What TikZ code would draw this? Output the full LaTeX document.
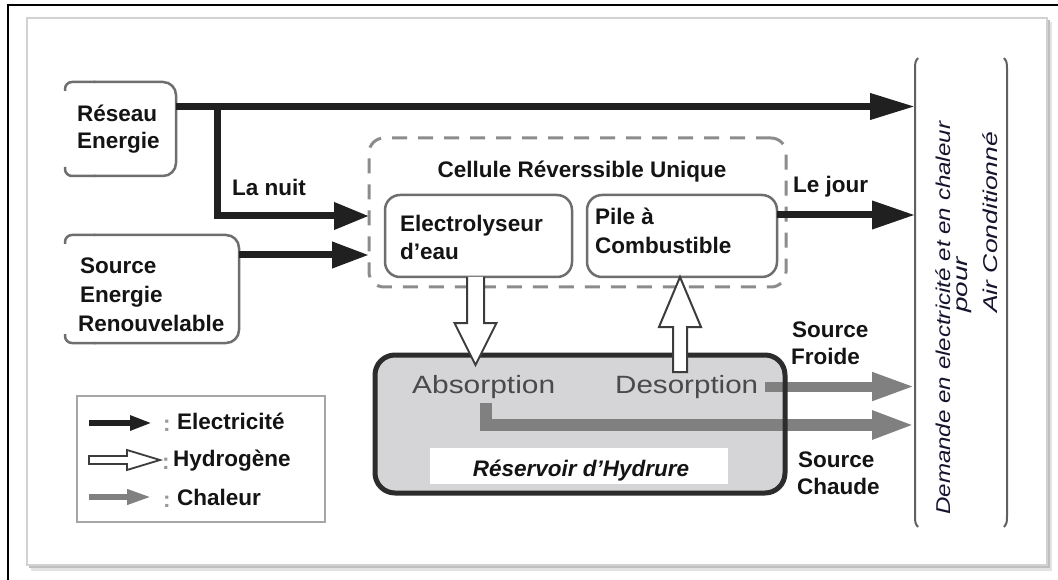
\documentclass[tikz,border=0pt]{standalone}
\usepackage{fontspec}
\setmainfont{Liberation Sans}
\usetikzlibrary{arrows.meta,calc}

\definecolor{ink}{HTML}{141414}
\definecolor{elec}{HTML}{202020}
\definecolor{heat}{HTML}{808080}
\definecolor{boxgray}{HTML}{6E6E6E}
\definecolor{dashgray}{HTML}{8C8C8C}
\definecolor{tankfill}{HTML}{D5D5D7}
\definecolor{tankline}{HTML}{2C2C2C}
\definecolor{hline}{HTML}{3C3C3C}
\definecolor{tanktext}{HTML}{4A4A4A}
\definecolor{demandink}{HTML}{15152E}

% stretch a text horizontally to a given width, keeping its height
\newcommand{\stretchw}[2]{\resizebox{#1}{\height}{#2}}

% box whose left side is left open, only its corners being drawn
\newcommand{\sideframe}[1]{%
  \draw[sideline, rounded corners=7pt] ($(#1.north west)+(0,9)$) -- (#1.north west) -- ($(#1.north west)+(30,0)$);
  \draw[sideline, rounded corners=13pt] ($(#1.north west)+(29,0)$) -- (#1.north east) -- (#1.south east) -- ($(#1.south west)+(29,0)$);
  \draw[sideline, rounded corners=7pt] ($(#1.south west)+(30,0)$) -- (#1.south west) -- ($(#1.south west)+(0,-9)$);}

\begin{document}
\begin{tikzpicture}[x=1pt,y=-1pt,
  place/.style={rectangle, inner sep=0pt, outer sep=0pt},
  lab/.style={font=\fontsize{22.5}{27}\selectfont\bfseries, text=ink, inner sep=0pt, anchor=base west},
  tanktxt/.style={font=\fontsize{25}{29}\selectfont, text=tanktext, inner sep=0pt, anchor=base west},
  demtxt/.style={font=\fontsize{20}{24}\selectfont\itshape, text=demandink, inner sep=0pt, rotate=90, anchor=base west},
  colon/.style={font=\fontsize{22.5}{27}\selectfont\bfseries, text=gray!80, inner sep=0pt, anchor=base west},
  sideline/.style={draw=boxgray, line width=2.5pt},
  cellbox/.style={place, draw=boxgray, line width=2.5pt, rounded corners=15pt, fill=white},
  wire/.style={draw=elec, line width=7pt, line join=miter},
  elecarrow/.style={wire, -{Triangle[length=43pt,width=25pt]}},
  heatarrow/.style={draw=heat, line width=10pt, line join=miter, -{Triangle[length=43pt,width=26pt]}},
  h2arrow/.style={draw=hline, fill=white, line width=2pt, line join=miter},
  bracket/.style={draw=gray!75!black, line width=2pt}]

\useasboundingbox (0,0) rectangle (1058,580);

% outer frame and the white panel with its shadow
\draw[black, line width=2.5pt] (8,590) -- (8,5) -- (1070,5);
\fill[gray!22] (31,22) rectangle (1052,571);
\fill[gray!50] (29,20) rectangle (1050,568);
\fill[white] (27,18) rectangle (1047,565);
\draw[gray!35, line width=1.5pt] (27,18) rectangle (1047,565);

% placeholders of the main blocks
\node[place, minimum width=111pt, minimum height=94pt] (reseau) at (120.5,129) {};
\node[place, minimum width=174pt, minimum height=108pt] (source) at (152,289) {};
\node[place, draw=dashgray, line width=3pt, dash pattern=on 15pt off 11pt, rounded corners=15pt,
      minimum width=417pt, minimum height=149pt] (cell) at (577.5,212.5) {};
\node[cellbox, minimum width=187pt, minimum height=82pt] (elyz) at (478.5,236) {};
\node[cellbox, minimum width=190pt, minimum height=82pt] (pile) at (682,236) {};
\node[place, minimum width=92pt, minimum height=469pt] (dem) at (961,292.5) {};

\sideframe{reseau}
\sideframe{source}

% electricity
\coordinate (split) at (217,106.5);
\draw[elecarrow, -{Triangle[length=45pt,width=25pt]}] ($(reseau.east)+(0,-22.5)$) -- ($(dem.west)+(0,-186)$);
\draw[elecarrow, -{Triangle[length=35pt,width=26pt]}] (split) |- ($(cell.west)+(0,3.5)$);
\draw[elecarrow, -{Triangle[length=37pt,width=25pt]}] ($(source.east)+(0,-34)$) -- ($(cell.west)+(0,42.5)$);
\draw[elecarrow, -{Triangle[length=43pt,width=27pt]}] ($(pile.east)+(0,-21)$) -- ($(dem.west)+(0,-77.5)$);

% hydride tank
\node[place, fill=tankfill, rounded corners=20pt, minimum width=410pt, minimum height=138pt] (tank) at (580,424) {};
\node[tanktxt] (absorb) at (412,393) {\stretchw{143pt}{Absorption}};
\node[tanktxt] (desorb) at (615,393) {\stretchw{143pt}{Desorption}};

% heat
\coordinate (hotstart) at (486,403);
\draw[heatarrow] ($(desorb.east)+(7,0)$) -- ($(desorb.east -| dem.west)$);
\draw[heatarrow, line width=12pt] (hotstart) |- ($(dem.west)+(0,132.5)$);

\draw[draw=tankline, line width=5pt, rounded corners=20pt] (tank.north west) rectangle (tank.south east);
\node[place, fill=white, minimum width=298pt, minimum height=36pt] (tanklabel) at (579,466) {};
\node[lab, anchor=base, font=\fontsize{22.5}{27}\selectfont\bfseries\itshape] (tankname) at (581,476) {Réservoir d'Hydrure};

% hydrogen
\draw[h2arrow] ($(elyz.south)+(-11.5,0)$) -- ++(0,46) -- ++(-12.5,0) -- ++(21,42) -- ++(21,-42) -- ++(-12.5,0) -- ++(0,-46);
\draw[h2arrow] ($(pile.south)+(-2,0)$) -- ++(21,50) -- ++(-14,0) -- ++(0,45) -- ++(-14,0) -- ++(0,-45) -- ++(-14,0) -- cycle;

% block texts
\node[lab] (r1) at (77,122) {Réseau};
\node[lab] (r2) at (77,149) {Energie};
\node[lab] (s1) at (80,274) {Source};
\node[lab] (s2) at (80,302.5) {Energie};
\node[lab] (s3) at (78,331) {Renouvelable};
\node[lab] (nuit) at (232,196) {La nuit};
\node[lab, anchor=base] (celltitle) at (582,178) {Cellule Réverssible Unique};
\node[lab] (e1) at (400,232) {Electrolyseur};
\node[lab] (e2) at (400,260) {d'eau};
\node[lab] (p1) at (595,225) {Pile à};
\node[lab] (p2) at (595,254) {Combustible};
\node[lab] (jour) at (793,193) {Le jour};
\node[lab] (f1) at (792,337) {Source};
\node[lab] (f2) at (791,364) {Froide};
\node[lab] (c1) at (798,467) {Source};
\node[lab] (c2) at (797,494) {Chaude};

% demand
\draw[bracket] ($(dem.north west)+(3,0)$) .. controls ($(dem.north west)+(0,4)$) .. ($(dem.north west)+(0,14)$)
   -- ($(dem.south west)+(0,-14)$) .. controls ($(dem.south west)+(0,-4)$) .. ($(dem.south west)+(3,0)$);
\draw[bracket] ($(dem.north east)+(-3,0)$) .. controls ($(dem.north east)+(0,4)$) .. ($(dem.north east)+(0,14)$)
   -- ($(dem.south east)+(0,-14)$) .. controls ($(dem.south east)+(0,-4)$) .. ($(dem.south east)+(-3,0)$);
\node[demtxt] (d1) at (950,515) {\stretchw{393pt}{Demande en electricité et en chaleur}};
\node[demtxt] (d2) at (967,313) {\stretchw{56pt}{pour}};
\node[demtxt] (d3) at (997,313) {\stretchw{181pt}{Air Conditionné}};

% legend
\node[place, draw=gray!70, line width=2pt, minimum width=248pt, minimum height=126pt] (legend) at (201,459) {};
\draw[draw=elec, line width=6.5pt, -{Triangle[length=22pt,width=14pt]}] (89,423) -- (152,423);
\draw[h2arrow, line width=1.8pt] (89,456) -- (127,456) -- (127,450) -- (160,460) -- (127,470) -- (127,464) -- (89,464) -- cycle;
\draw[draw=heat, line width=6.5pt, -{Triangle[length=25pt,width=14pt]}] (89,497) -- (152,497);
\node[colon] (k1) at (163,431) {:};
\node[colon] (k2) at (162,469) {:};
\node[colon] (k3) at (163,507) {:};
\node[lab] (l1) at (177,429) {Electricité};
\node[lab] (l2) at (173,466) {Hydrogène};
\node[lab] (l3) at (177,505) {Chaleur};
\end{tikzpicture}
\end{document}
